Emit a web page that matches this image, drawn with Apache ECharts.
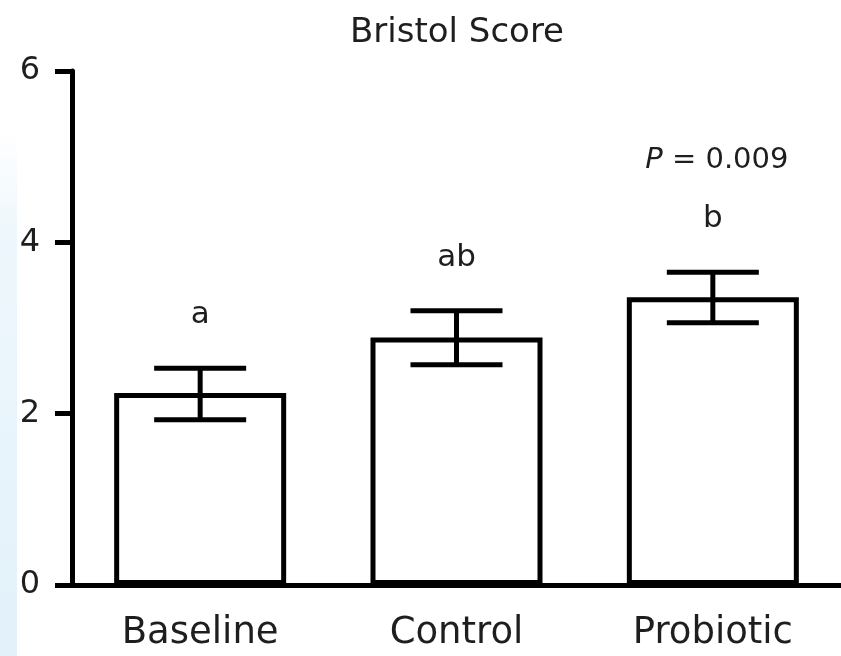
<!DOCTYPE html>
<html>
<head>
<meta charset="utf-8">
<script src="https://cdn.jsdelivr.net/npm/echarts@6/dist/echarts.min.js"></script>
<style>html,body{margin:0;padding:0;background:#fff}#c{width:841px;height:656px}</style>
</head>
<body>
<div id="c"></div>
<script>
const categories = ['Baseline', 'Control', 'Probiotic'];
const means = [2.24, 2.89, 3.36];
const errLow = [1.93, 2.57, 3.06];
const errHigh = [2.53, 3.20, 3.65];
const letters = ['a', 'ab', 'b'];
const pTexts = ['', '', '0.009'];
const yTicks = [0, 2, 4, 6];

const font = '"DejaVu Sans", sans-serif';
const chart = echarts.init(document.getElementById('c'));
chart.setOption({
  animation: false,
  backgroundColor: '#fff',
  title: {
    text: 'Bristol Score', left: 452, top: 11, textAlign: 'center',
    textStyle: { fontFamily: font, fontSize: 34, fontWeight: 'normal', color: '#1e1e1e' }
  },
  graphic: [{
    type: 'rect', left: 0, top: 0, z: -1,
    shape: { width: 17, height: 656 },
    style: { fill: new echarts.graphic.LinearGradient(0, 0, 0, 1, [
      { offset: 0, color: '#ffffff' }, { offset: 0.2, color: '#ffffff' },
      { offset: 0.35, color: '#eef7fc' }, { offset: 1, color: '#e2f1fa' }]) }
  }],
  grid: { left: 72, right: -8, top: 71, bottom: 71 },
  xAxis: {
    type: 'category', data: categories,
    axisLine: { lineStyle: { color: '#000', width: 5 } },
    axisTick: { alignWithLabel: true, length: 17, lineStyle: { color: '#000', width: 5 } },
    axisLabel: { fontFamily: font, fontSize: 37, color: '#1e1e1e', margin: 30 }
  },
  yAxis: {
    type: 'value', min: 0, max: 6, interval: 2,
    splitLine: { show: false },
    axisLine: { show: true, lineStyle: { color: '#000', width: 5 } },
    axisTick: { show: true, length: 17, lineStyle: { color: '#000', width: 5 } },
    axisLabel: { fontFamily: font, fontSize: 32, color: '#1e1e1e', margin: 32,
      formatter: v => yTicks.includes(v) ? String(v) : '' }
  },
  series: [{
    type: 'bar', data: means, barWidth: 172,
    itemStyle: { color: '#fff', borderColor: '#000', borderWidth: 5 },
    z: 2
  }, {
    type: 'custom', z: 3,
    data: categories.map((c, i) => [i, errLow[i], errHigh[i]]),
    renderItem: function (params, api) {
      const i = api.value(0);
      const lo = api.coord([i, api.value(1)]);
      const hi = api.coord([i, api.value(2)]);
      const half = 46;
      const ls = { stroke: '#000', lineWidth: 5 };
      const children = [
        { type: 'line', shape: { x1: lo[0], y1: lo[1], x2: hi[0], y2: hi[1] }, style: ls },
        { type: 'line', shape: { x1: lo[0] - half, y1: lo[1], x2: lo[0] + half, y2: lo[1] }, style: ls },
        { type: 'line', shape: { x1: hi[0] - half, y1: hi[1], x2: hi[0] + half, y2: hi[1] }, style: ls },
        { type: 'text', x: hi[0], y: hi[1] - 53,
          style: { text: letters[i], fontFamily: font, fontSize: 31, fill: '#1e1e1e', align: 'center', verticalAlign: 'middle' } }
      ];
      if (pTexts[i]) {
        children.push({ type: 'text', x: hi[0] + 4, y: hi[1] - 112,
          style: { text: '{i|P} = ' + pTexts[i], fontFamily: font, fontSize: 29, fill: '#1e1e1e', align: 'center', verticalAlign: 'middle',
            rich: { i: { fontStyle: 'italic', fontFamily: font, fontSize: 29, fill: '#1e1e1e' } } } });
      }
      return { type: 'group', children: children };
    }
  }]
});
</script>
</body>
</html>
